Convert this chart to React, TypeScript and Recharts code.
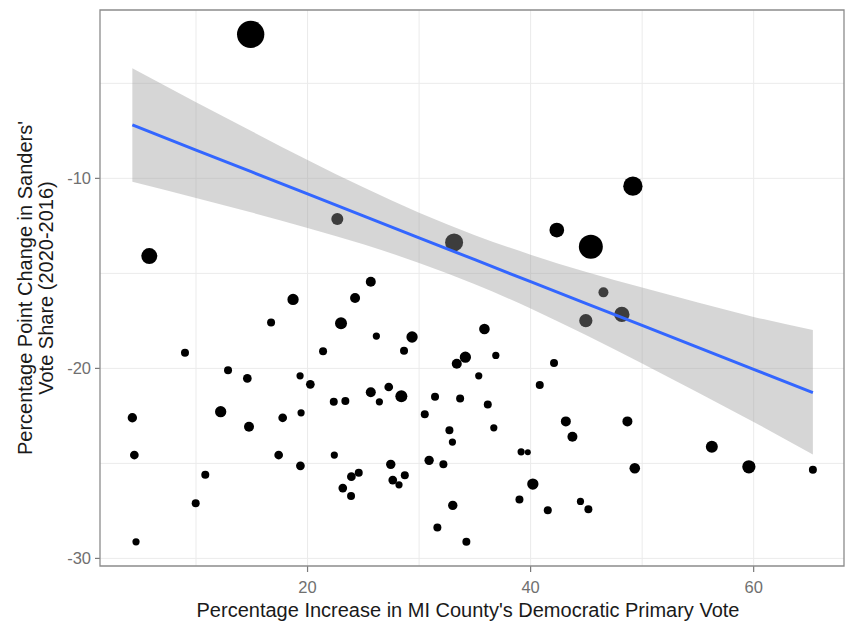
import React from "react";
import {
  ComposedChart,
  Scatter,
  Area,
  Line,
  XAxis,
  YAxis,
  ZAxis,
  CartesianGrid,
  ReferenceArea,
} from "recharts";

// county points: x = % increase in Dem primary vote, y = change in Sanders share, z = point size
const countyX = [
  4.29, 4.47, 4.62, 9.01, 9.97, 10.83, 12.87, 12.21, 14.6, 14.75, 16.73, 18.7, 17.41, 17.77,
  19.33, 20.25, 19.42, 19.36, 21.39, 23.0, 24.26, 25.67, 22.35, 23.39, 22.4, 23.16, 23.93,
  24.59, 23.9, 26.17, 25.67, 26.44, 27.28, 28.41, 29.37, 28.65, 27.46, 27.64, 28.2, 28.72,
  30.51, 31.43, 33.68, 32.72, 32.99, 30.9, 32.18, 33.02, 31.64, 34.24, 33.38, 34.15, 35.35,
  35.86, 36.88, 36.16, 36.7, 39.15, 39.75, 40.2, 39.0, 41.54, 42.1, 40.82, 43.16, 43.75,
  44.47, 45.18, 48.68, 49.34, 56.25, 59.57, 65.31, 46.53, 44.95, 48.18, 14.9, 5.81, 22.67,
  33.14, 49.17, 42.35, 45.4,
];
const countyY = [
  -22.6, -24.56, -29.13, -19.18, -27.1, -25.6, -20.1, -22.28, -20.53, -23.07, -17.58, -16.37,
  -24.56, -22.6, -20.39, -20.84, -22.34, -25.13, -19.1, -17.63, -16.3, -15.44, -21.76, -21.72,
  -24.56, -26.3, -25.7, -25.49, -26.72, -18.3, -21.26, -21.76, -20.98, -21.47, -18.35, -19.07,
  -25.05, -25.88, -26.13, -25.63, -22.42, -21.49, -21.58, -23.25, -23.88, -24.84, -25.05,
  -27.21, -28.37, -29.13, -19.76, -19.41, -20.39, -17.93, -19.32, -21.9, -23.13, -24.39,
  -24.42, -26.09, -26.9, -27.46, -19.72, -20.88, -22.79, -23.6, -27.0, -27.42, -22.79, -25.26,
  -24.13, -25.18, -25.34, -16.0, -17.49, -17.16, -2.42, -14.09, -12.14, -13.37, -10.41,
  -12.72, -13.6,
];
const countySize = [
  22, 19, 13, 16, 16, 16, 16, 32, 19, 25, 16, 32, 19, 19, 13, 19, 13, 19, 16, 36, 25, 25, 16,
  16, 13, 19, 19, 16, 16, 13, 25, 13, 19, 36, 32, 16, 22, 19, 13, 16, 16, 16, 16, 16, 13, 22,
  16, 22, 16, 16, 25, 32, 13, 28, 13, 16, 13, 13, 9, 32, 16, 16, 16, 16, 25, 25, 13, 16, 25,
  28, 36, 44, 16, 25, 44, 59, 187, 64, 36, 81, 93, 54, 144,
];

const fitX = [4.29, 10, 15, 20, 25, 30, 35, 40, 45, 50, 55, 60, 65.31];
const fitY = [-7.19, -8.51, -9.66, -10.82, -11.97, -13.13, -14.28, -15.44, -16.59, -17.74, -18.9, -20.05, -21.28];
const bandLow = [-10.18, -11.03, -11.8, -12.61, -13.47, -14.45, -15.57, -16.85, -18.26, -19.74, -21.27, -22.82, -24.53];
const bandHigh = [-4.2, -5.99, -7.52, -9.03, -10.47, -11.81, -12.99, -14.02, -14.93, -15.75, -16.53, -17.29, -17.98];

const xTicks = [20, 40, 60];
const yTicks = [-30, -20, -10];
const xGrid = [10, 20, 30, 40, 50, 60];
const yGrid = [-30, -25, -20, -15, -10, -5];

const X_DOMAIN: [number, number] = [1.39, 68.1];
const Y_DOMAIN: [number, number] = [-30.4, -1.14];

const points = countyX.map((x, i) => ({ x, y: countyY[i], z: countySize[i] }));
const fitData = fitX.map((x, i) => ({ x, fit: fitY[i], band: [bandLow[i], bandHigh[i]] }));

const FONT = "'Liberation Sans', Arial, sans-serif";

const XTitle = () => (
  <text x={468} y={610} textAnchor="middle" dominantBaseline="central" fontFamily={FONT} fontSize={20} fill="#1a1a1a">
    Percentage Increase in MI County's Democratic Primary Vote
  </text>
);

const YTitle = () => (
  <text
    transform="rotate(-90, 35, 288)"
    x={35}
    y={288}
    textAnchor="middle"
    fontFamily={FONT}
    fontSize={20}
    fill="#1a1a1a"
  >
    <tspan x={35} dy={-3}>Percentage Point Change in Sanders'</tspan>
    <tspan x={35} dy={21}>Vote Share (2020-2016)</tspan>
  </text>
);

export default function App() {
  return (
    <div style={{ position: "absolute", left: 0, top: 0, width: 846, height: 622, background: "#fff", overflow: "hidden" }}>
      <ComposedChart
        width={846}
        height={622}
        data={fitData}
        margin={{ top: 10, right: 2, bottom: 16, left: 40 }}
      >
        <CartesianGrid stroke="#ebebeb" strokeWidth={1} horizontalValues={yGrid} verticalValues={xGrid} />
        <XAxis
          type="number"
          dataKey="x"
          domain={X_DOMAIN}
          allowDataOverflow
          ticks={xTicks}
          height={40}
          axisLine={false}
          tickSize={6}
          tickMargin={9}
          tickLine={{ stroke: "#7a7a7a", strokeWidth: 1.2 }}
          tick={{ fill: "#707070", fontSize: 16.5, fontFamily: FONT }}
          label={{ content: () => <XTitle /> }}
        />
        <YAxis
          type="number"
          domain={Y_DOMAIN}
          allowDataOverflow
          ticks={yTicks}
          width={60}
          axisLine={false}
          tickSize={5}
          tickMargin={4}
          tickLine={{ stroke: "#7a7a7a", strokeWidth: 1.2 }}
          tick={{ fill: "#707070", fontSize: 16.5, fontFamily: FONT }}
          label={{ content: () => <YTitle /> }}
        />
        <ZAxis type="number" dataKey="z" domain={[0, 200]} range={[0, 200 * Math.PI]} />
        <Scatter data={points} dataKey="y" fill="#000" isAnimationActive={false} />
        <Area
          type="monotone"
          dataKey="band"
          stroke="none"
          fill="#999999"
          fillOpacity={0.4}
          isAnimationActive={false}
          zIndex={700}
        />
        <Line
          type="linear"
          dataKey="fit"
          stroke="#3366ff"
          strokeWidth={3}
          dot={false}
          activeDot={false}
          isAnimationActive={false}
          zIndex={800}
        />
        <ReferenceArea
          x1={X_DOMAIN[0]}
          x2={X_DOMAIN[1]}
          y1={Y_DOMAIN[0]}
          y2={Y_DOMAIN[1]}
          fill="none"
          stroke="#8c8c8c"
          strokeWidth={1.3}
          zIndex={900}
        />
      </ComposedChart>
    </div>
  );
}
